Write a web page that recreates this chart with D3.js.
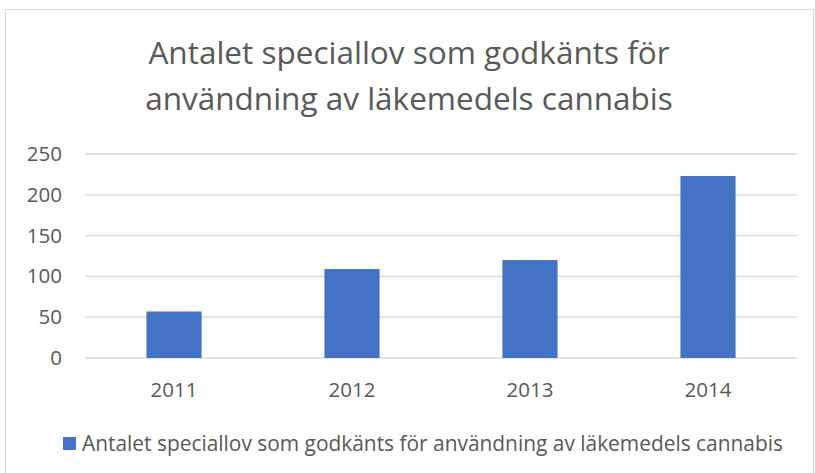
<!DOCTYPE html>
<html>
<head>
<meta charset="utf-8">
<script src="https://cdn.jsdelivr.net/npm/d3@7"></script>
<style>
  body { margin: 0; background: #fff; }
  text { font-family: "Open Sans", sans-serif; fill: #595959; }
</style>
</head>
<body>
<svg id="chart"></svg>
<script>
// data
const years = ["2011", "2012", "2013", "2014"];
const permits = [57, 109, 120, 223];
const yTicks = [0, 50, 100, 150, 200, 250];
const titleLines = ["Antalet speciallov som godkänts för", "användning av läkemedels cannabis"];
const seriesName = "Antalet speciallov som godkänts för användning av läkemedels cannabis";

const width = 815, height = 473;
const margin = {top: 154, right: 18, bottom: 115, left: 85};

const svg = d3.select("#chart")
	.attr("width", width)
	.attr("height", height);

// chart border
svg.append("rect")
	.attr("x", 5.5)
	.attr("y", 9.5)
	.attr("width", 808)
	.attr("height", 480)
	.attr("fill", "#fff")
	.attr("stroke", "#d9d9d9")
	.attr("stroke-width", 1);

// title
svg.append("text")
	.attr("text-anchor", "middle")
	.style("font-size", "31.5px")
	.selectAll("tspan")
	.data(titleLines)
	.join("tspan")
		.attr("x", 409)
		.attr("y", (d, i) => 64 + i * 46)
		.text(d => d);

const innerW = width - margin.left - margin.right;
const innerH = height - margin.top - margin.bottom;

const x = d3.scaleBand()
	.domain(years)
	.range([0, innerW])
	.paddingInner(0.69)
	.paddingOuter(0.345);

const y = d3.scaleLinear()
	.domain([0, 250])
	.range([innerH, 0]);

const g = svg.append("g")
	.attr("transform", `translate(${margin.left},${margin.top})`);

// gridlines
g.append("g")
	.selectAll("line")
	.data(yTicks)
	.join("line")
		.attr("x1", 0)
		.attr("x2", innerW)
		.attr("y1", d => y(d))
		.attr("y2", d => y(d))
		.attr("stroke", "#d9d9d9")
		.attr("stroke-width", 1.3);

// y axis labels
const yAxis = d3.axisLeft(y).tickValues(yTicks).tickSize(0).tickPadding(23);
g.append("g")
	.call(yAxis)
	.call(a => a.select(".domain").remove())
	.selectAll("text")
		.style("font-size", "20.5px")
		.style("font-family", "Open Sans, sans-serif")
		.attr("fill", "#595959");

// x axis labels
const xAxis = d3.axisBottom(x).tickSize(0).tickPadding(24);
g.append("g")
	.attr("transform", `translate(0,${innerH})`)
	.call(xAxis)
	.call(a => a.select(".domain").remove())
	.selectAll("text")
		.style("font-size", "20.5px")
		.style("font-family", "Open Sans, sans-serif")
		.attr("fill", "#595959");

// bars
g.selectAll(".bar")
	.data(permits)
	.join("rect")
		.attr("class", "bar")
		.attr("x", (d, i) => x(years[i]))
		.attr("y", d => y(d))
		.attr("width", x.bandwidth())
		.attr("height", d => innerH - y(d))
		.attr("fill", "#4472c4");

// legend
const legend = svg.append("g").attr("transform", "translate(63,437)");
legend.append("rect")
	.attr("width", 13)
	.attr("height", 13)
	.attr("fill", "#4472c4");
legend.append("text")
	.attr("x", 19)
	.attr("y", 13.5)
	.style("font-size", "20.9px")
	.text(seriesName);
</script>
</body>
</html>
